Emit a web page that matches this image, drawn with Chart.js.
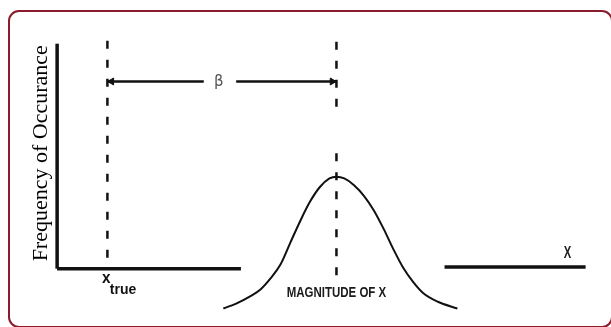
<!DOCTYPE html>
<html>
<head>
<meta charset="utf-8">
<script src="https://cdn.jsdelivr.net/npm/chart.js@4.4.1/dist/chart.umd.min.js"></script>
<style>
  html, body { margin: 0; padding: 0; background: #fff; }
  #frame {
    position: absolute; left: 8px; top: 10px;
    width: 601px; height: 314px;
    border: 2px solid #8b1c2b; border-radius: 11px;
  }
  #wrap { position: absolute; left: 0; top: 0; width: 611px; height: 327px; }
</style>
</head>
<body>
<div id="frame"></div>
<div id="wrap"><canvas id="biasChart"></canvas></div>
<script>
/* ── Data (magnitude units on x, frequency units on y) ── */
const curveX = [5.95, 6.41, 6.94, 7.29, 7.64, 7.99, 8.35, 8.70, 9.05, 9.40, 9.75, 10.00,
                10.28, 10.63, 10.99, 11.34, 11.69, 12.04, 12.39, 12.75, 13.10, 13.63, 14.33];
const curveY = [-1.77, -1.55, -1.21, -0.91, -0.43, 0.17, 1.16, 2.11, 2.97, 3.62, 4.01, 4.09,
                4.01, 3.71, 3.23, 2.59, 1.77, 0.86, 0.04, -0.60, -1.08, -1.47, -1.77];

const xTrue = 1.8;          // true value
const xMean = 10.0;         // mean of measurements
const yAxisTop = 10.0;
const xAxisLeft  = [0, 6.58];
const xAxisRight = [13.87, 18.92];
const xAxisRightY = 0.08;

const trueDash  = [10.13, 0];
const meanDashUpper = [10.09, 7.07];
const meanDashLower = [5.13, -0.34];

const betaY = 8.32;
const betaLeft  = [xTrue, 5.25];
const betaRight = [6.41, xMean];
const arrowHeadX = [1.95, 9.85];

const labels = [
  { text: 'Frequency of Occurance', x: -0.56, y: 5.13, font: '22px "Liberation Serif", "Times New Roman", serif', rot: -90, sx: 1, color: '#000' },
  { text: 'β', x: 5.79, y: 8.28, font: '15px "DejaVu Sans", sans-serif', rot: 0, sx: 1, color: '#555' },
  { text: 'MAGNITUDE OF X', x: 10.0, y: -1.10, font: 'bold 14px "Liberation Sans", Arial, sans-serif', rot: 0, sx: 0.82, color: '#1a1a1a' },
  { text: 'X', x: 18.27, y: 0.69, font: 'bold 16px "Liberation Sans", Arial, sans-serif', rot: 0, sx: 0.7, color: '#222' },
  { text: 'x', x: 1.76, y: -0.45, font: 'bold 17px "Liberation Sans", Arial, sans-serif', rot: 0, sx: 0.9, color: '#111' },
  { text: 'true', x: 2.36, y: -0.95, font: 'bold 14px "Liberation Sans", Arial, sans-serif', rot: 0, sx: 1, color: '#111' }
];

// ── helpers ─────────────────────────────────
const pts = (xs, ys) => xs.map((x, i) => ({ x, y: ys[i] }));
const seg = (x0, y0, x1, y1, width, dash) => ({
  data: [{ x: x0, y: y0 }, { x: x1, y: y1 }],
  borderColor: '#111', borderWidth: width, borderDash: dash || [],
  pointRadius: 0, borderCapStyle: 'butt', clip: false
});

// ── Text plugin ─────────────────────────────
const textLabels = {
  id: 'textLabels',
  afterDatasetsDraw(chart) {
    const { ctx, scales: { x, y } } = chart;
    labels.forEach(l => {
      ctx.save();
      ctx.translate(x.getPixelForValue(l.x), y.getPixelForValue(l.y));
      ctx.rotate(l.rot * Math.PI / 180);
      ctx.scale(l.sx, 1);
      ctx.font = l.font;
      ctx.fillStyle = l.color;
      ctx.textAlign = 'center';
      ctx.textBaseline = 'middle';
      ctx.fillText(l.text, 0, 0);
      ctx.restore();
    });
  }
};

new Chart(document.getElementById('biasChart'), {
  type: 'line',
  data: {
    datasets: [
      // distribution curve
      { data: pts(curveX, curveY), borderColor: '#111', borderWidth: 2, pointRadius: 0,
        tension: 0.4, cubicInterpolationMode: 'monotone', clip: false },
      // axes
      seg(0, 0, 0, yAxisTop, 3.5),
      seg(xAxisLeft[0], 0, xAxisLeft[1], 0, 3.5),
      seg(xAxisRight[0], xAxisRightY, xAxisRight[1], xAxisRightY, 3.5),
      // dashed markers
      seg(xTrue, trueDash[0], xTrue, trueDash[1], 2.5, [8, 11]),
      seg(xMean, meanDashUpper[0], xMean, meanDashUpper[1], 2.5, [8, 11]),
      seg(xMean, meanDashLower[0], xMean, meanDashLower[1], 2.5, [8, 11]),
      // beta arrow
      seg(betaLeft[0], betaY, betaLeft[1], betaY, 2.5),
      seg(betaRight[0], betaY, betaRight[1], betaY, 2.5),
      { type: 'scatter', data: arrowHeadX.map(x => ({ x, y: betaY })),
        pointStyle: 'triangle', pointRadius: 4, pointRotation: [-90, 90],
        backgroundColor: '#111', borderColor: '#111', borderWidth: 1, clip: false }
    ]
  },
  options: {
    responsive: true,
    maintainAspectRatio: false,
    animation: false,
    layout: { padding: 0 },
    scales: {
      x: { type: 'linear', min: -1.866, max: 19.65, display: false },
      y: { type: 'linear', min: -2.37, max: 11.72, display: false }
    },
    plugins: { legend: { display: false }, tooltip: { enabled: false } }
  },
  plugins: [textLabels]
});
</script>
</body>
</html>
